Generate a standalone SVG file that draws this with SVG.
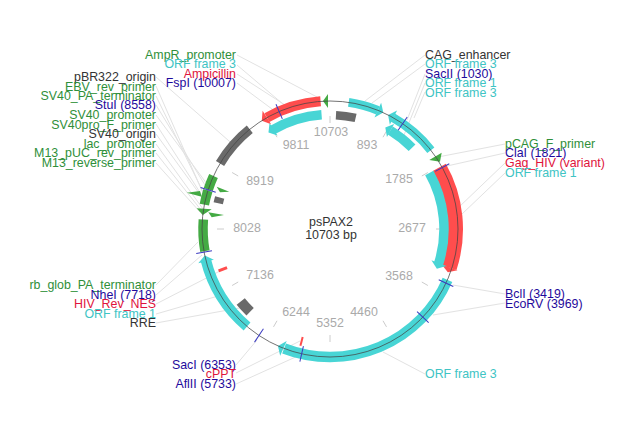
<svg xmlns="http://www.w3.org/2000/svg" width="625" height="437" viewBox="0 0 625 437">
<style>
text{font-family:"Liberation Sans",Arial,sans-serif;font-size:12.4px}
.e{text-anchor:end}.m{text-anchor:middle}
.g{fill:#2f8f3a}.b{fill:#1f0a9c}.r{fill:#e0143c}.c{fill:#40c4c4}.k{fill:#333}.n{fill:#aaa}
.l{stroke:#e2e2e2;stroke-width:1;fill:none}
.t{stroke:#ccc;stroke-width:1}
.a{fill:none}
.fr{stroke:#ff4d4d}.fc{stroke:#48d5d5}.fg{stroke:#44aa44}.fk{stroke:#6a6a6a}
.hr{fill:#ff4d4d}.hc{fill:#48d5d5}.hg{fill:#44aa44}
.z{stroke:#3a3ac0;stroke-width:1}
</style>
<rect width="625" height="437" fill="#fff"/>
<g id="connectors">
<path class="l" d="M237 55L317 97M237 65L290 110M237 74L285 105M237 83L276 112"/>
<path class="l" d="M156 77L237 148M156 86L203 193M156 96L205 196M156 105L208 190M156 115L207 184M156 124L201 194M156 134L204 200M156 144L203 209M156 153L201 210M156 163L200 212"/>
<path class="l" d="M425 55L365 101M425 64L372 103M425 74L407 120M425 83L402 140M425 92L414 118"/>
<path class="l" d="M505 144L438 157M505 153L447 166M505 163L458 208M505 173L440 235"/>
<path class="l" d="M505 294L453 285M505 303L433 315"/>
<path class="l" d="M156 285L198 242M156 295L202 255M156 304L220 271M156 314L225 294M156 323L245 307"/>
<path class="l" d="M236 365L257 340M236 373L300 341M236 384L300 355"/>
<path class="l" d="M425 374L383 352"/>
</g>
<g id="scale">
<path class="t" d="M330 123V116M383 137.2L386.5 131.1M421.8 176L427.9 172.5M436 229H443M421.8 282L427.9 285.5M383 320.8L386.5 326.9M330 335V342M277 320.8L273.5 326.9M238.2 282L232.1 285.5M224 229H217M238.2 176L232.1 172.5M277 137.2L273.5 131.1"/>
<text class="n m" x="331" y="136">10703</text><text class="n m" x="367" y="149">893</text><text class="n m" x="399" y="183">1785</text><text class="n m" x="412" y="232">2677</text><text class="n m" x="399" y="280">3568</text><text class="n m" x="364" y="316">4460</text><text class="n m" x="330" y="327">5352</text><text class="n m" x="296" y="316">6244</text><text class="n m" x="260" y="279">7136</text><text class="n m" x="247" y="232">8028</text><text class="n m" x="260" y="185">8919</text><text class="n m" x="296" y="149">9811</text>
</g>
<g id="features" transform="translate(330 229)">
<g id="ampicillin"><circle class="a fr" r="128" stroke-width="10" pathLength="360" stroke-dasharray="25.3 360" transform="rotate(240.5)"/><polygon class="hr" transform="rotate(327.8)" points="0,-128 6,-136 6,-120"/></g>
<g id="orf-frame-3-a"><circle class="a fc" r="114.5" stroke-width="9.5" pathLength="360" stroke-dasharray="25.8 360" transform="rotate(240)"/><polygon class="hc" transform="rotate(327.5)" points="0,-114.5 6,-122 6,-107"/></g>
<g id="ampr-promoter"><polygon class="hg" points="-7,-128 -2,-135 -2,-121"/></g>
<g id="cag-enhancer"><circle class="a fk" r="114" stroke-width="8.5" pathLength="360" stroke-dasharray="10 360" transform="rotate(-87)"/></g>
<g id="orf-frame-3-b"><circle class="a fc" r="128" stroke-width="9" pathLength="360" stroke-dasharray="13.6 360" transform="rotate(-81.6)"/><polygon class="hc" transform="rotate(24.6)" points="0,-128 -6,-136 -6,-120"/></g>
<g id="orf-frame-3-c"><circle class="a fc" r="128" stroke-width="9" pathLength="360" stroke-dasharray="22.5 360" transform="rotate(-60.5)"/><polygon class="hc" transform="rotate(27)" points="0,-128 6,-136 6,-120"/></g>
<g id="orf-frame-1-a"><circle class="a fc" r="115.5" stroke-width="9.5" pathLength="360" stroke-dasharray="13.8 360" transform="rotate(-58.5)"/><polygon class="hc" transform="rotate(28.6)" points="0,-115.5 6,-123 6,-108"/></g>
<g id="pcag-f-primer"><polygon class="hg" points="99.3,-69 111.7,-76.3 110,-67.3"/></g>
<g id="gag-hiv"><circle class="a fr" r="125.5" stroke-width="15" pathLength="360" stroke-dasharray="47.4 360" transform="rotate(-29.4)"/><polygon class="hr" transform="rotate(110.1)" points="0,-125.5 -5,-134 -5,-117"/></g>
<g id="orf-frame-1-b"><circle class="a fc" r="114" stroke-width="9.5" pathLength="360" stroke-dasharray="47.4 360" transform="rotate(-29.4)"/><polygon class="hc" transform="rotate(110.4)" points="0,-114 -6,-122 -6,-106"/></g>
<g id="orf-frame-3-d"><circle class="a fc" r="128" stroke-width="10.5" pathLength="360" stroke-dasharray="87.6 360" transform="rotate(23.4)"/><polygon class="hc" transform="rotate(204)" points="0,-128 -6,-136 -6,-120"/></g>
<g id="orf-frame-1-c"><circle class="a fc" r="128" stroke-width="10.5" pathLength="360" stroke-dasharray="35.6 360" transform="rotate(130.4)"/><polygon class="hc" transform="rotate(258)" points="0,-128 -6,-136 -6,-120"/></g>
<g id="rb-glob-pa-terminator"><circle class="a fg" r="127" stroke-width="9.5" pathLength="360" stroke-dasharray="14.3 360" transform="rotate(170)"/></g>
<g id="sv40-promoter"><circle class="a fg" r="128" stroke-width="9.5" pathLength="360" stroke-dasharray="6.5 360" transform="rotate(191)"/></g>
<g id="sv40-pa-terminator"><circle class="a fg" r="128" stroke-width="9.5" pathLength="360" stroke-dasharray="6.5 360" transform="rotate(198)"/></g>
<g id="m13-pair"><polygon class="hg" points="-133.3,-20.7 -118.3,-19.7 -127.3,-14"/><polygon class="hg" points="-121.7,-16.7 -106,-14 -118.3,-11.7"/></g>
<g id="lac-promoter"><polygon class="hg" points="-143.3,-36.3 -130,-38 -128.3,-32.3"/></g>
<g id="ebv-rev-primer"><polygon class="hg" points="-113.3,-42.3 -100.7,-37.3 -110,-36.7"/></g>
<g id="sv40-origin"><circle class="a fk" r="114.7" stroke-width="9.5" pathLength="360" stroke-dasharray="3 360" transform="rotate(193)"/></g>
<g id="pbr322-origin"><circle class="a fk" r="128" stroke-width="9.5" pathLength="360" stroke-dasharray="20.4 360" transform="rotate(210.8)"/></g>
<g id="hiv-rev-nes"><line class="fr" stroke-width="3" y1="-110" y2="-119" transform="rotate(249.4)"/></g>
<g id="rre"><circle class="a fk" r="115" stroke-width="10.5" pathLength="360" stroke-dasharray="7 360" transform="rotate(134)"/></g>
<g id="cppt"><line class="fr" stroke-width="2" y1="-111.5" y2="-120.5" transform="rotate(194.2)"/></g>
<circle id="backbone" r="128" fill="none" stroke="#444" stroke-width="1" opacity=".75"/>
<g id="sites">
<line class="z" y1="-120" y2="-136" transform="rotate(336.6)"/>
<line class="z" y1="-120" y2="-136" transform="rotate(34.6)"/>
<line class="z" y1="-120" y2="-136" transform="rotate(61.3)"/>
<line class="z" y1="-120" y2="-136" transform="rotate(115)"/>
<line class="z" y1="-120" y2="-136" transform="rotate(133.5)"/>
<line class="z" y1="-120" y2="-136" transform="rotate(192.8)"/>
<line class="z" y1="-120" y2="-136" transform="rotate(213.7)"/>
<line class="z" y1="-120" y2="-136" transform="rotate(259.6)"/>
<line class="z" y1="-120" y2="-136" transform="rotate(287.8)"/>
</g>
</g>
<g id="title"><text class="k m" x="331" y="226">psPAX2</text><text class="k m" x="331" y="239">10703 bp</text></g>
<g id="labels">
<text class="g e" x="236" y="59">AmpR_promoter</text><text class="c e" x="236" y="67.5">ORF frame 3</text><text class="r e" x="236" y="78">Ampicillin</text><text class="b e" x="236" y="87">FspI (10007)</text>
<text class="k e" x="156" y="81">pBR322_origin</text><text class="g e" x="156" y="90.5">EBV_rev_primer</text><text class="g e" x="156" y="100">SV40_PA_terminator</text><text class="b e" x="156" y="109">StuI (8558)</text><text class="g e" x="156" y="119">SV40_promoter</text><text class="g e" x="156" y="128.5">SV40pro_F_primer</text><text class="k e" x="156" y="138">SV40_origin</text><text class="g e" x="156" y="148">lac_promoter</text><text class="g e" x="156" y="157">M13_pUC_rev_primer</text><text class="g e" x="156" y="167">M13_reverse_primer</text>
<text class="k" x="425" y="59">CAG_enhancer</text><text class="c" x="425" y="67.5">ORF frame 3</text><text class="b" x="425" y="78">SacII (1030)</text><text class="c" x="425" y="87">ORF frame 1</text><text class="c" x="425" y="96.5">ORF frame 3</text>
<text class="g" x="505" y="147.5">pCAG_F_primer</text><text class="b" x="505" y="157">ClaI (1821)</text><text class="r" x="505" y="167">Gag_HIV (variant)</text><text class="c" x="505" y="177">ORF frame 1</text>
<text class="b" x="505" y="298">BclI (3419)</text><text class="b" x="505" y="307.5">EcoRV (3969)</text>
<text class="g e" x="156" y="289">rb_glob_PA_terminator</text><text class="b e" x="156" y="299">NheI (7718)</text><text class="r e" x="156" y="308">HIV_Rev_NES</text><text class="c e" x="156" y="318">ORF frame 1</text><text class="k e" x="156" y="327">RRE</text>
<text class="b e" x="236" y="369">SacI (6353)</text><text class="r e" x="236" y="377.5">cPPT</text><text class="b e" x="236" y="388">AflII (5733)</text>
<text class="c" x="425" y="378">ORF frame 3</text>
</g>
</svg>
